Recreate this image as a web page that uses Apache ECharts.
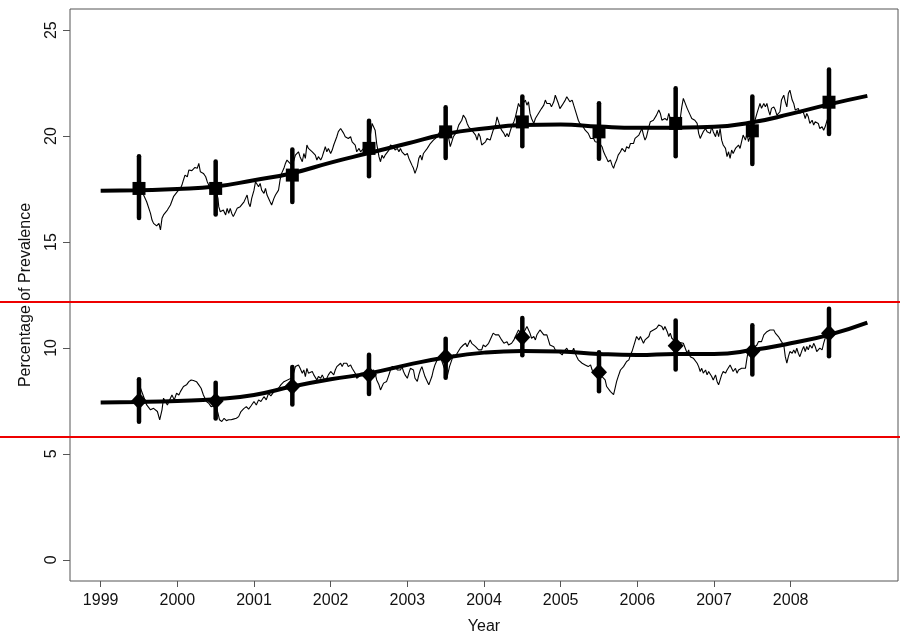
<!DOCTYPE html>
<html>
<head>
<meta charset="utf-8">
<title>Percentage of Prevalence by Year</title>
<script src="https://cdn.jsdelivr.net/npm/echarts@6/dist/echarts.min.js"></script>
<style>
  html, body { margin: 0; padding: 0; background: #fff; }
  #chart { width: 900px; height: 635px; }
</style>
</head>
<body>
<div id="chart"></div>
<script>
// Axis ticks
const yearTicks = [1999, 2000, 2001, 2002, 2003, 2004, 2005, 2006, 2007, 2008];
const pctTicks = [0, 5, 10, 15, 20, 25];

// Reference levels (red horizontal lines)
const refLevels = [12.2, 5.8];

// Annual estimates, plotted at mid-year
const midYears = [1999.5, 2000.5, 2001.5, 2002.5, 2003.5, 2004.5, 2005.5, 2006.5, 2007.5, 2008.5];
const upperEst = [17.53, 17.53, 18.16, 19.42, 20.2, 20.67, 20.2, 20.6, 20.25, 21.6];
const upperHi  = [19.05, 18.8, 19.37, 20.73, 21.36, 21.87, 21.55, 22.26, 21.87, 23.14];
const upperLo  = [16.14, 16.3, 16.89, 18.1, 18.97, 19.52, 18.93, 19.05, 18.68, 20.1];
const lowerEst = [7.5, 7.5, 8.18, 8.73, 9.59, 10.5, 8.85, 10.1, 9.85, 10.7];
const lowerHi  = [8.52, 8.36, 9.1, 9.68, 10.44, 11.42, 9.8, 11.3, 11.07, 11.85];
const lowerLo  = [6.52, 6.67, 7.33, 7.83, 8.59, 9.66, 7.96, 8.98, 8.75, 9.61];

// Smoothed trend, half-year knots 1999.0 .. 2009.0
const trendYears = [1999, 1999.5, 2000, 2000.5, 2001, 2001.5, 2002, 2002.5, 2003, 2003.5, 2004,
                    2004.5, 2005, 2005.5, 2006, 2006.5, 2007, 2007.5, 2008, 2008.5, 2009];
const upperTrend = [17.42, 17.45, 17.5, 17.62, 17.92, 18.25, 18.75, 19.2, 19.65, 20.1, 20.36,
                    20.52, 20.55, 20.45, 20.39, 20.4, 20.44, 20.65, 21.05, 21.5, 21.9];
const lowerTrend = [7.42, 7.45, 7.5, 7.58, 7.78, 8.18, 8.52, 8.8, 9.2, 9.55, 9.78,
                    9.86, 9.83, 9.72, 9.67, 9.72, 9.72, 9.9, 10.22, 10.62, 11.2];

// Rolling series [year, percent]
const upperDaily = [[1999.50,17.50],[1999.56,17.22],[1999.60,16.90],[1999.65,16.35],[1999.67,16.04],[1999.69,15.88],[1999.71,15.96],[1999.73,15.76],[1999.76,15.88],[1999.78,15.57],[1999.80,16.12],[1999.82,16.28],[1999.84,16.20],[1999.87,16.51],[1999.89,16.59],[1999.91,16.75],[1999.93,16.83],[1999.95,17.14],[1999.97,17.22],[2000.00,17.38],[2000.02,17.30],[2000.04,17.53],[2000.06,17.69],[2000.08,17.93],[2000.10,18.16],[2000.13,18.08],[2000.15,18.40],[2000.17,18.48],[2000.19,18.37],[2000.21,18.40],[2000.23,18.52],[2000.26,18.48],[2000.28,18.71],[2000.30,18.32],[2000.32,18.40],[2000.34,18.24],[2000.37,18.08],[2000.39,17.85],[2000.41,17.69],[2000.43,17.45],[2000.45,17.38],[2000.50,17.50],[2000.53,17.06],[2000.54,16.67],[2000.56,16.43],[2000.58,16.35],[2000.60,16.51],[2000.63,16.28],[2000.65,16.59],[2000.67,16.35],[2000.69,16.59],[2000.71,16.35],[2000.73,16.20],[2000.76,16.43],[2000.78,16.59],[2000.80,16.51],[2000.82,16.67],[2000.84,16.75],[2000.87,16.90],[2000.89,17.06],[2000.91,17.22],[2000.93,16.83],[2000.95,16.67],[2000.97,17.06],[2001.00,17.45],[2001.02,17.85],[2001.04,17.93],[2001.06,17.61],[2001.08,17.77],[2001.10,17.45],[2001.13,17.30],[2001.15,17.53],[2001.17,17.22],[2001.19,17.14],[2001.21,16.90],[2001.23,16.75],[2001.26,17.06],[2001.28,17.22],[2001.30,17.14],[2001.32,17.45],[2001.34,17.93],[2001.36,18.24],[2001.39,18.48],[2001.41,18.71],[2001.43,18.87],[2001.45,18.95],[2001.47,18.71],[2001.50,18.60],[2001.54,19.10],[2001.58,19.26],[2001.60,19.03],[2001.63,18.79],[2001.65,19.18],[2001.67,18.95],[2001.69,19.58],[2001.71,19.42],[2001.73,19.50],[2001.76,19.26],[2001.78,19.34],[2001.80,19.10],[2001.82,18.87],[2001.84,19.03],[2001.87,18.87],[2001.89,19.03],[2001.91,19.26],[2001.93,19.50],[2001.95,19.26],[2001.97,19.42],[2002.00,19.18],[2002.02,19.34],[2002.04,19.58],[2002.06,19.50],[2002.08,19.97],[2002.10,20.21],[2002.13,20.36],[2002.15,20.28],[2002.17,20.13],[2002.19,19.97],[2002.21,20.05],[2002.23,19.89],[2002.26,19.97],[2002.28,19.73],[2002.30,19.65],[2002.32,19.58],[2002.34,19.26],[2002.37,19.42],[2002.39,19.26],[2002.41,19.34],[2002.45,19.50],[2002.50,19.58],[2002.54,20.60],[2002.56,20.68],[2002.58,20.28],[2002.60,19.65],[2002.63,19.03],[2002.65,18.79],[2002.67,19.10],[2002.69,18.95],[2002.71,19.10],[2002.73,19.03],[2002.76,19.34],[2002.78,19.58],[2002.80,19.65],[2002.82,19.50],[2002.84,19.34],[2002.87,19.42],[2002.89,19.26],[2002.91,19.42],[2002.93,19.26],[2002.95,19.34],[2002.97,19.10],[2003.00,19.18],[2003.02,18.95],[2003.04,18.79],[2003.06,18.63],[2003.08,18.48],[2003.10,18.24],[2003.13,18.55],[2003.15,18.95],[2003.17,19.10],[2003.19,18.87],[2003.21,19.18],[2003.23,19.26],[2003.26,19.42],[2003.28,19.50],[2003.30,19.65],[2003.32,19.58],[2003.34,19.81],[2003.36,19.89],[2003.39,19.97],[2003.41,20.05],[2003.43,20.28],[2003.45,20.36],[2003.50,20.20],[2003.54,19.89],[2003.56,19.50],[2003.58,19.73],[2003.60,19.97],[2003.63,20.13],[2003.65,20.28],[2003.67,20.52],[2003.69,20.60],[2003.71,20.75],[2003.73,20.99],[2003.76,20.83],[2003.78,20.60],[2003.80,20.44],[2003.82,20.50],[2003.84,20.28],[2003.86,20.36],[2003.89,20.05],[2003.91,19.81],[2003.93,20.13],[2003.95,19.97],[2003.97,19.58],[2003.99,19.65],[2004.02,19.73],[2004.04,19.89],[2004.06,19.97],[2004.08,19.81],[2004.10,19.73],[2004.12,20.28],[2004.15,20.52],[2004.17,20.91],[2004.19,20.68],[2004.21,20.44],[2004.23,20.28],[2004.26,20.13],[2004.28,19.97],[2004.30,20.13],[2004.32,19.97],[2004.34,20.21],[2004.36,20.44],[2004.39,20.68],[2004.41,20.91],[2004.43,21.23],[2004.45,21.54],[2004.47,21.38],[2004.50,21.50],[2004.54,21.70],[2004.56,21.46],[2004.58,21.62],[2004.60,21.07],[2004.62,20.83],[2004.65,20.60],[2004.67,20.83],[2004.69,20.75],[2004.71,21.07],[2004.73,21.15],[2004.75,21.30],[2004.78,21.46],[2004.80,21.70],[2004.82,21.54],[2004.84,21.62],[2004.86,21.54],[2004.88,21.38],[2004.91,21.62],[2004.93,21.93],[2004.95,21.86],[2004.97,21.54],[2004.99,21.30],[2005.02,21.46],[2005.04,21.54],[2005.06,21.70],[2005.08,21.86],[2005.10,21.78],[2005.12,21.62],[2005.15,21.70],[2005.17,21.46],[2005.19,21.23],[2005.21,20.99],[2005.23,20.75],[2005.25,20.60],[2005.28,20.52],[2005.30,20.44],[2005.32,20.28],[2005.34,20.21],[2005.36,20.13],[2005.39,19.89],[2005.41,19.81],[2005.43,19.89],[2005.45,19.73],[2005.47,19.81],[2005.50,19.70],[2005.54,19.50],[2005.56,19.26],[2005.58,19.10],[2005.60,18.95],[2005.62,18.79],[2005.65,18.87],[2005.67,18.63],[2005.69,18.48],[2005.71,18.71],[2005.73,18.87],[2005.75,19.10],[2005.78,19.26],[2005.80,19.42],[2005.82,19.34],[2005.84,19.26],[2005.86,19.50],[2005.89,19.42],[2005.91,19.65],[2005.93,19.73],[2005.95,19.65],[2005.97,19.89],[2005.99,19.81],[2006.02,20.05],[2006.04,20.21],[2006.06,20.36],[2006.08,20.05],[2006.10,19.81],[2006.12,19.97],[2006.15,20.44],[2006.17,20.68],[2006.19,20.60],[2006.21,20.75],[2006.23,20.68],[2006.25,20.99],[2006.28,21.23],[2006.30,21.07],[2006.32,20.75],[2006.34,20.68],[2006.36,20.83],[2006.39,20.75],[2006.41,21.07],[2006.43,20.83],[2006.45,20.60],[2006.50,20.70],[2006.56,20.83],[2006.58,21.38],[2006.60,21.78],[2006.62,21.70],[2006.65,21.31],[2006.67,21.23],[2006.69,20.99],[2006.71,20.83],[2006.73,20.91],[2006.75,20.75],[2006.78,20.60],[2006.80,20.13],[2006.82,19.89],[2006.84,20.05],[2006.86,20.21],[2006.89,20.36],[2006.91,20.21],[2006.93,20.28],[2006.95,20.13],[2006.97,20.44],[2006.99,20.21],[2007.02,19.97],[2007.04,20.28],[2007.06,19.97],[2007.08,20.36],[2007.10,19.81],[2007.12,19.58],[2007.15,19.42],[2007.17,19.03],[2007.19,19.26],[2007.21,18.95],[2007.23,19.34],[2007.25,19.18],[2007.28,19.42],[2007.30,19.34],[2007.32,19.58],[2007.34,19.42],[2007.36,19.74],[2007.38,20.05],[2007.41,19.81],[2007.43,20.13],[2007.45,19.74],[2007.50,20.30],[2007.56,21.07],[2007.58,21.31],[2007.60,21.54],[2007.62,21.31],[2007.65,21.54],[2007.67,21.38],[2007.69,21.54],[2007.71,21.23],[2007.73,20.99],[2007.75,21.31],[2007.78,21.38],[2007.80,21.23],[2007.82,20.99],[2007.84,21.07],[2007.86,21.15],[2007.88,21.70],[2007.91,21.93],[2007.93,21.62],[2007.95,21.38],[2007.97,22.01],[2007.99,22.17],[2008.02,21.70],[2008.04,21.54],[2008.06,21.23],[2008.08,21.15],[2008.10,21.31],[2008.12,21.07],[2008.15,21.23],[2008.17,21.07],[2008.19,20.83],[2008.21,21.07],[2008.23,20.91],[2008.25,20.60],[2008.28,20.75],[2008.30,20.52],[2008.32,20.68],[2008.34,20.75],[2008.36,20.60],[2008.38,20.36],[2008.41,20.44],[2008.43,20.28],[2008.45,20.44],[2008.47,20.68],[2008.50,21.00]];

const lowerDaily = [[1999.50,7.50],[1999.52,8.10],[1999.54,8.02],[1999.60,7.31],[1999.65,7.08],[1999.69,7.15],[1999.74,7.00],[1999.77,6.61],[1999.80,7.08],[1999.82,7.63],[1999.84,7.70],[1999.87,7.31],[1999.89,7.47],[1999.91,7.39],[1999.93,7.78],[1999.96,7.55],[1999.99,7.86],[2000.02,7.78],[2000.04,7.94],[2000.06,7.86],[2000.08,8.18],[2000.12,8.26],[2000.15,8.41],[2000.18,8.49],[2000.21,8.46],[2000.25,8.41],[2000.28,8.26],[2000.31,8.10],[2000.34,7.78],[2000.38,7.47],[2000.41,7.39],[2000.44,7.23],[2000.50,7.30],[2000.53,6.92],[2000.55,6.61],[2000.58,6.53],[2000.61,6.68],[2000.64,6.57],[2000.67,6.61],[2000.70,6.61],[2000.73,6.64],[2000.77,6.68],[2000.80,6.76],[2000.83,7.00],[2000.87,7.15],[2000.90,7.23],[2000.93,7.11],[2000.96,7.26],[2001.00,7.47],[2001.03,7.31],[2001.06,7.55],[2001.09,7.47],[2001.13,7.70],[2001.16,7.55],[2001.19,7.86],[2001.22,7.74],[2001.26,7.94],[2001.29,8.02],[2001.32,8.10],[2001.35,8.26],[2001.39,8.41],[2001.41,8.49],[2001.50,8.60],[2001.54,9.12],[2001.58,9.20],[2001.60,9.05],[2001.63,8.81],[2001.65,8.96],[2001.67,8.65],[2001.69,9.04],[2001.71,8.81],[2001.73,8.73],[2001.76,8.89],[2001.78,8.73],[2001.80,8.65],[2001.82,8.49],[2001.84,8.65],[2001.87,8.57],[2001.89,8.73],[2001.91,8.65],[2001.93,8.42],[2001.95,8.57],[2001.97,8.73],[2002.00,8.89],[2002.02,8.81],[2002.04,8.73],[2002.06,8.96],[2002.08,9.12],[2002.10,9.20],[2002.13,9.28],[2002.15,9.12],[2002.17,9.28],[2002.19,9.20],[2002.21,9.28],[2002.23,9.12],[2002.26,9.20],[2002.28,9.04],[2002.30,9.12],[2002.32,8.81],[2002.34,8.57],[2002.37,8.65],[2002.39,8.81],[2002.41,8.73],[2002.50,8.85],[2002.56,8.96],[2002.58,8.81],[2002.60,8.49],[2002.63,8.26],[2002.65,8.02],[2002.67,8.18],[2002.69,8.34],[2002.71,8.26],[2002.73,8.42],[2002.76,8.73],[2002.78,8.96],[2002.80,9.12],[2002.82,9.04],[2002.84,9.12],[2002.87,8.96],[2002.89,9.04],[2002.91,8.96],[2002.93,9.12],[2002.95,8.89],[2002.97,8.73],[2003.00,8.57],[2003.02,8.81],[2003.04,9.04],[2003.06,9.12],[2003.08,8.96],[2003.10,8.57],[2003.13,8.42],[2003.15,8.73],[2003.17,8.96],[2003.19,9.12],[2003.21,9.04],[2003.23,8.65],[2003.26,8.42],[2003.28,8.26],[2003.30,8.34],[2003.32,8.65],[2003.34,8.96],[2003.36,9.20],[2003.39,9.44],[2003.41,9.52],[2003.43,9.59],[2003.45,9.59],[2003.52,8.65],[2003.55,9.12],[2003.58,9.44],[2003.60,9.67],[2003.63,9.59],[2003.65,9.75],[2003.67,9.83],[2003.69,9.99],[2003.71,9.91],[2003.73,10.14],[2003.76,10.22],[2003.78,10.06],[2003.80,10.22],[2003.82,10.38],[2003.84,10.22],[2003.86,10.30],[2003.89,10.06],[2003.91,10.14],[2003.93,9.91],[2003.95,9.83],[2003.97,9.91],[2003.99,10.14],[2004.02,10.06],[2004.04,9.99],[2004.06,10.22],[2004.08,10.30],[2004.10,10.54],[2004.12,10.70],[2004.15,10.62],[2004.17,10.70],[2004.19,10.62],[2004.21,10.54],[2004.23,10.38],[2004.26,10.22],[2004.28,10.14],[2004.30,10.30],[2004.32,10.14],[2004.34,10.06],[2004.36,10.22],[2004.39,10.38],[2004.41,10.54],[2004.43,10.70],[2004.45,10.85],[2004.50,10.60],[2004.56,11.01],[2004.58,10.93],[2004.60,10.70],[2004.62,10.46],[2004.65,10.54],[2004.67,10.38],[2004.69,10.62],[2004.71,10.70],[2004.73,10.85],[2004.75,10.78],[2004.78,10.62],[2004.80,10.70],[2004.82,10.62],[2004.84,10.38],[2004.86,10.14],[2004.88,10.22],[2004.91,10.06],[2004.93,9.91],[2004.95,9.99],[2004.97,9.83],[2004.99,9.75],[2005.02,9.67],[2005.04,9.83],[2005.06,9.91],[2005.08,9.99],[2005.10,9.83],[2005.12,9.91],[2005.15,9.83],[2005.17,9.99],[2005.19,9.75],[2005.21,9.59],[2005.23,9.44],[2005.25,9.52],[2005.28,9.28],[2005.30,9.36],[2005.32,9.20],[2005.34,9.28],[2005.36,9.12],[2005.39,9.20],[2005.41,8.96],[2005.43,9.04],[2005.45,8.89],[2005.50,8.80],[2005.58,8.49],[2005.60,8.18],[2005.62,8.10],[2005.65,7.94],[2005.67,7.86],[2005.69,7.80],[2005.71,8.10],[2005.73,8.42],[2005.75,8.65],[2005.78,8.96],[2005.80,8.89],[2005.82,9.12],[2005.84,9.20],[2005.86,9.36],[2005.89,9.44],[2005.91,9.67],[2005.93,9.83],[2005.95,10.06],[2005.97,10.30],[2005.99,10.54],[2006.02,10.38],[2006.04,10.54],[2006.06,10.62],[2006.08,10.22],[2006.10,10.38],[2006.12,10.30],[2006.15,10.54],[2006.17,10.77],[2006.19,10.70],[2006.21,10.85],[2006.23,10.77],[2006.25,10.93],[2006.28,11.09],[2006.30,11.17],[2006.32,11.01],[2006.34,10.85],[2006.36,11.01],[2006.39,10.77],[2006.41,10.54],[2006.43,10.70],[2006.45,10.46],[2006.50,10.30],[2006.60,10.22],[2006.65,9.75],[2006.67,9.91],[2006.69,9.59],[2006.71,9.67],[2006.73,9.52],[2006.75,9.59],[2006.78,9.28],[2006.80,9.12],[2006.82,8.89],[2006.84,9.04],[2006.86,8.81],[2006.89,8.96],[2006.91,8.73],[2006.93,8.89],[2006.95,8.81],[2006.97,8.65],[2006.99,8.49],[2007.02,8.73],[2007.04,8.42],[2007.06,8.26],[2007.08,8.49],[2007.10,8.73],[2007.12,8.89],[2007.15,8.81],[2007.17,8.96],[2007.19,8.89],[2007.21,9.20],[2007.23,9.12],[2007.25,8.89],[2007.28,9.04],[2007.30,8.81],[2007.32,8.96],[2007.34,8.89],[2007.36,9.04],[2007.38,8.96],[2007.41,9.04],[2007.43,9.52],[2007.45,9.91],[2007.50,9.95],[2007.56,10.14],[2007.58,10.30],[2007.60,10.38],[2007.62,10.30],[2007.65,10.62],[2007.67,10.54],[2007.69,10.77],[2007.71,10.70],[2007.73,10.85],[2007.75,10.77],[2007.78,10.85],[2007.80,10.70],[2007.82,10.62],[2007.84,10.54],[2007.86,10.46],[2007.88,10.30],[2007.91,10.14],[2007.93,9.59],[2007.95,9.28],[2007.97,9.59],[2007.99,9.83],[2008.02,9.75],[2008.04,9.91],[2008.06,9.75],[2008.08,9.99],[2008.10,9.75],[2008.12,9.59],[2008.15,9.91],[2008.17,10.07],[2008.19,9.83],[2008.21,10.07],[2008.23,9.91],[2008.25,10.14],[2008.28,9.99],[2008.30,10.22],[2008.32,10.07],[2008.34,9.83],[2008.36,9.75],[2008.38,9.99],[2008.41,9.91],[2008.43,10.22],[2008.45,10.46],[2008.47,10.54],[2008.50,10.70]];

const FONT = '"Liberation Sans", Arial, Helvetica, sans-serif';
const AXIS_GREY = '#555';

const zip = (xs, ys) => xs.map((x, i) => [x, ys[i]]);
const zip3 = (xs, a, b) => xs.map((x, i) => [x, a[i], b[i]]);

// Vertical interval bar drawn through the axis scales
function errorBar(params, api) {
  const x = api.value(0);
  const lo = api.coord([x, api.value(1)]);
  const hi = api.coord([x, api.value(2)]);
  return {
    type: 'line',
    shape: { x1: lo[0], y1: lo[1], x2: hi[0], y2: hi[1] },
    style: { stroke: '#000', lineWidth: 4.5, lineCap: 'round' }
  };
}

const chart = echarts.init(document.getElementById('chart'), null, { renderer: 'canvas' });

chart.setOption({
  animation: false,
  backgroundColor: '#fff',
  textStyle: { fontFamily: FONT },
  grid: [
    { left: 70, right: 2, top: 9, bottom: 54, show: true, outerBoundsMode: 'none',
      containLabel: false, borderColor: AXIS_GREY, borderWidth: 1, backgroundColor: 'transparent' },
    { left: 0, right: 0, top: 9, bottom: 54, show: false, outerBoundsMode: 'none', containLabel: false }
  ],
  xAxis: [
    {
      gridIndex: 0, type: 'value', min: 1998.6, max: 2009.4, position: 'bottom',
      name: 'Year', nameLocation: 'middle', nameGap: 38,
      nameTextStyle: { fontFamily: FONT, fontSize: 16, color: '#111' },
      axisLine: { show: false, onZero: false },
      axisTick: { show: true, customValues: yearTicks, length: 6,
                  lineStyle: { color: AXIS_GREY, width: 1 } },
      axisLabel: { customValues: yearTicks, fontFamily: FONT, fontSize: 16,
                   color: '#111', margin: 12, formatter: v => String(v) },
      splitLine: { show: false }
    },
    { gridIndex: 1, type: 'value', min: 0, max: 1, show: false }
  ],
  yAxis: [
    {
      gridIndex: 0, type: 'value', min: -1, max: 26, position: 'left',
      name: 'Percentage of Prevalence', nameLocation: 'middle', nameRotate: 90, nameGap: 36,
      nameTextStyle: { fontFamily: FONT, fontSize: 16, color: '#111' },
      axisLine: { show: false, onZero: false },
      axisTick: { show: true, customValues: pctTicks, length: 7,
                  lineStyle: { color: AXIS_GREY, width: 1 } },
      axisLabel: { customValues: pctTicks, rotate: 90, fontFamily: FONT, fontSize: 16,
                   color: '#111', margin: 10 },
      splitLine: { show: false }
    },
    { gridIndex: 1, type: 'value', min: -1, max: 26, show: false }
  ],
  series: [
    // rolling series
    { type: 'line', xAxisIndex: 0, yAxisIndex: 0, data: upperDaily, showSymbol: false,
      symbol: 'none', lineStyle: { color: '#000', width: 1.1 }, z: 2 },
    { type: 'line', xAxisIndex: 0, yAxisIndex: 0, data: lowerDaily, showSymbol: false,
      symbol: 'none', lineStyle: { color: '#000', width: 1.1 }, z: 2 },
    // smoothed trends
    { type: 'line', xAxisIndex: 0, yAxisIndex: 0, data: zip(trendYears, upperTrend),
      smooth: true, symbol: 'none', lineStyle: { color: '#000', width: 4 }, z: 3 },
    { type: 'line', xAxisIndex: 0, yAxisIndex: 0, data: zip(trendYears, lowerTrend),
      smooth: true, symbol: 'none', lineStyle: { color: '#000', width: 4 }, z: 3 },
    // interval bars
    { type: 'custom', xAxisIndex: 0, yAxisIndex: 0, renderItem: errorBar,
      data: zip3(midYears, upperLo, upperHi), z: 4 },
    { type: 'custom', xAxisIndex: 0, yAxisIndex: 0, renderItem: errorBar,
      data: zip3(midYears, lowerLo, lowerHi), z: 4 },
    // annual estimates
    { type: 'scatter', xAxisIndex: 0, yAxisIndex: 0, data: zip(midYears, upperEst),
      symbol: 'rect', symbolSize: 13, itemStyle: { color: '#000', opacity: 1 }, z: 5 },
    { type: 'scatter', xAxisIndex: 0, yAxisIndex: 0, data: zip(midYears, lowerEst),
      symbol: 'diamond', symbolSize: [16, 17], itemStyle: { color: '#000', opacity: 1 }, z: 5 },
    // reference levels across the full width
    { type: 'line', xAxisIndex: 1, yAxisIndex: 1, data: [], symbol: 'none',
      markLine: {
        silent: true, symbol: 'none', label: { show: false },
        lineStyle: { color: '#ee0000', width: 2, type: 'solid' },
        data: refLevels.map(v => ({ yAxis: v }))
      }, z: 6 }
  ]
});
</script>
</body>
</html>
